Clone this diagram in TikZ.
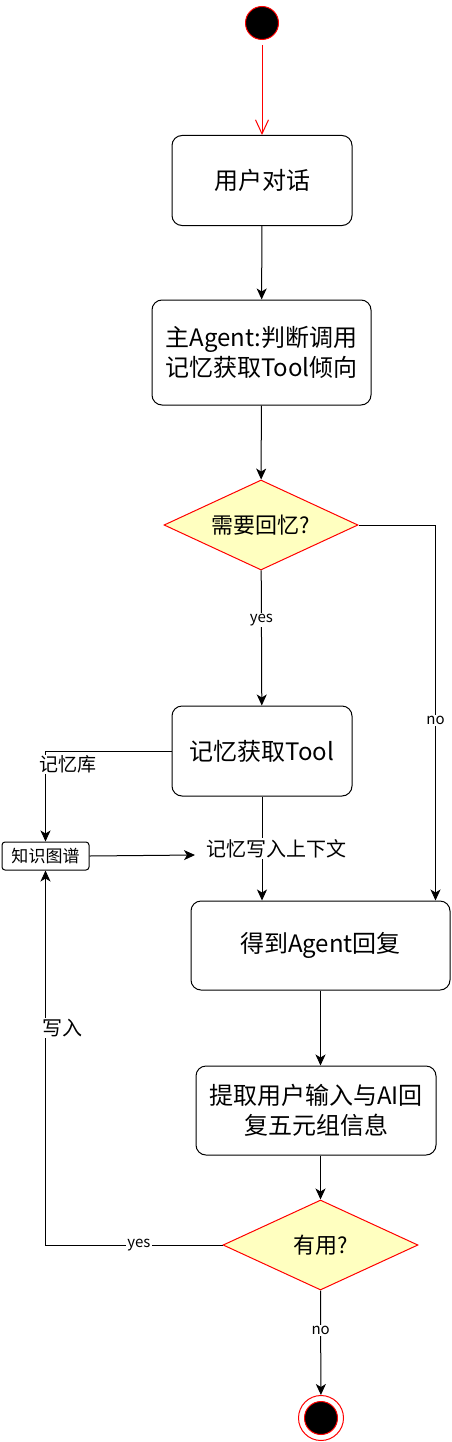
\documentclass[tikz,border=0pt]{standalone}
\usepackage{fontspec}
\setmainfont{Noto Sans CJK SC}
\usetikzlibrary{arrows.meta,shapes.geometric,positioning}
\definecolor{decfill}{HTML}{FFFFC0}

\begin{document}
\begin{tikzpicture}[x=1pt, y=-1pt,
    act/.style={draw, line width=1pt, rounded corners=10pt, align=center,
        inner sep=0pt, font=\fontsize{24}{30}\selectfont},
    dec/.style={diamond, draw=red, fill=decfill, line width=1pt, inner sep=0pt,
        shape aspect=2.15, font=\fontsize{22}{26}\selectfont},
    arr/.style={line width=1pt, -{Stealth[length=11pt, width=10pt, inset=3pt]}},
    lbl/.style={fill=white, inner sep=1pt, font=\fontsize{15}{18}\selectfont}]
    \useasboundingbox (0,0) rectangle (452,1442);

    % start and end
    \node[circle, draw=red, fill=black, line width=1pt, minimum size=33pt, inner sep=0pt] (start) at (262,23) {};
    \node[circle, draw=red, line width=1pt, minimum size=45pt, inner sep=0pt] (end) at (321,1418) {};
    \node[circle, draw=red, fill=black, line width=1pt, minimum size=33pt, inner sep=0pt] (endin) at (end) {};

    % activities
    \node[act, minimum width=180pt, minimum height=90pt] (talk) at (262,180.5) {用户对话};
    \node[act, minimum width=219pt, minimum height=105pt] (judge) at (261.5,352.5) {主Agent:判断调用\\记忆获取Tool倾向};
    \node[dec, minimum width=194pt, minimum height=90pt] (need) at (261,525) {需要回忆?};
    \node[act, minimum width=180pt, minimum height=90pt] (fetch) at (262,751) {记忆获取Tool};
    \node[draw, line width=1pt, rounded corners=3pt, minimum width=87pt, minimum height=28pt,
        inner sep=0pt, font=\fontsize{17}{20}\selectfont] (kg) at (45.5,856) {知识图谱};
    \coordinate (ctx) at (195,855);
    \node[act, minimum width=259pt, minimum height=89pt] (reply) at (320.5,945.5) {得到Agent回复};
    \node[act, minimum width=240pt, minimum height=89pt] (extract) at (316,1110.5) {提取用户输入与AI回\\复五元组信息};
    \node[dec, minimum width=195pt, minimum height=90pt] (useful) at (320.5,1245) {有用?};

    % connectors
    \draw[red, line width=1pt, shorten <=5pt, -{Straight Barb[length=14pt, width=13pt]}] (start) -- (talk);
    \draw[arr] (talk) -- (judge);
    \draw[arr] (judge) -- (need);
    \draw[arr] (need) -- node[lbl, pos=0.37] {yes} (fetch);
    \draw[arr] (need.east) -| node[lbl, pos=0.76] {no} ([xshift=-15pt]reply.north east);
    \draw[arr] (fetch.west) -| node[lbl, pos=0.575, xshift=22pt, font=\fontsize{19}{22}\selectfont] {记忆库} (kg.north);
    \draw[arr] (kg.east) -- (ctx);
    \draw[arr] (fetch.south) -- node[lbl, xshift=14pt, font=\fontsize{20}{24}\selectfont] {记忆写入上下文} (fetch.south |- reply.north);
    \draw[arr] (reply.south) -- (reply.south |- extract.north);
    \draw[arr] (useful.north |- extract.south) -- (useful.north);
    \draw[arr] (useful.west) -| node[lbl, pos=0.236] {yes}
        node[lbl, pos=0.79, xshift=17pt, font=\fontsize{20}{24}\selectfont] {写入} (kg.south);
    \draw[arr] (useful.south) -- node[lbl, pos=0.38] {no} (end);
\end{tikzpicture}
\end{document}
